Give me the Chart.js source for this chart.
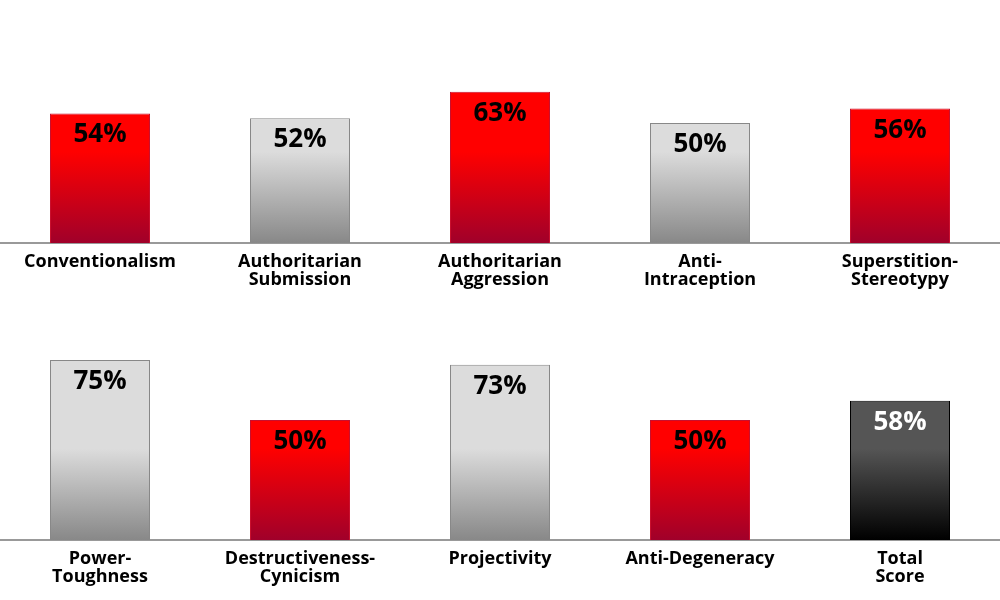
<!DOCTYPE html>
<html>
<head>
<meta charset="utf-8">
<script src="https://cdn.jsdelivr.net/npm/chart.js@4/dist/chart.umd.min.js"></script>
<style>
  body { margin: 0; background: #fff; }
  .row { width: 1000px; height: 300px; }
</style>
</head>
<body>
<div class="row"><canvas id="topChart" width="1000" height="300"></canvas></div>
<div class="row"><canvas id="bottomChart" width="1000" height="300"></canvas></div>
<script>
const topLabels = [
    'Conventionalism',
    ['Authoritarian', 'Submission'],
    ['Authoritarian', 'Aggression'],
    ['Anti-', 'Intraception'],
    ['Superstition-', 'Stereotypy']
];
const topValues = [54, 52, 63, 50, 56];

const bottomLabels = [
    ['Power-', 'Toughness'],
    ['Destructiveness-', 'Cynicism'],
    'Projectivity',
    'Anti-Degeneracy',
    ['Total', 'Score']
];
const bottomValues = [75, 50, 73, 50, 58];

// which palette each bar uses
const topKinds = ['red', 'gray', 'red', 'gray', 'red'];
const bottomKinds = ['gray', 'red', 'gray', 'red', 'dark'];

const palette = {
    red:  { top: '#ff0000', bottom: '#a0002a', border: '#c8102e', text: '#000' },
    gray: { top: '#dcdcdc', bottom: '#888888', border: '#888888', text: '#000' },
    dark: { top: '#555555', bottom: '#000000', border: '#000000', text: '#fff' }
};

function gradientFor(context, kind) {
    const p = palette[kind];
    const area = context.chart.chartArea;
    if (!area) return p.top;
    const g = context.chart.ctx.createLinearGradient(0, area.top, 0, area.bottom);
    g.addColorStop(0, p.top);
    g.addColorStop(0.62, p.top);
    g.addColorStop(1, p.bottom);
    return g;
}

const valueLabels = {
    id: 'valueLabels',
    afterDatasetsDraw(chart, args, opts) {
        const ctx = chart.ctx;
        const meta = chart.getDatasetMeta(0);
        ctx.save();
        ctx.font = 'bold 26px "Open Sans"';
        ctx.textAlign = 'center';
        ctx.textBaseline = 'alphabetic';
        meta.data.forEach((bar, i) => {
            ctx.fillStyle = palette[opts.kinds[i]].text;
            ctx.fillText(chart.data.datasets[0].data[i] + '%', bar.x, bar.y + 29);
        });
        ctx.restore();
    }
};

function makeChart(id, labels, values, kinds, padTop, axisHeight) {
    return new Chart(document.getElementById(id), {
        type: 'bar',
        data: {
            labels: labels,
            datasets: [{
                data: values,
                backgroundColor: ctx => gradientFor(ctx, kinds[ctx.dataIndex]),
                borderColor: kinds.map(k => palette[k].border),
                borderWidth: 1,
                categoryPercentage: 1,
                barPercentage: 0.5
            }]
        },
        options: {
            responsive: false,
            animation: false,
            layout: { padding: { top: padTop, left: 0, right: 0, bottom: 0 } },
            plugins: {
                legend: { display: false },
                tooltip: { enabled: false },
                valueLabels: { kinds: kinds }
            },
            scales: {
                y: { display: false, min: 0, max: 100 },
                x: {
                    grid: { display: false },
                    border: { display: true, color: '#999999', width: 2 },
                    ticks: {
                        color: '#000',
                        padding: 2,
                        maxRotation: 0,
                        autoSkip: false,
                        font: { family: '"Open Sans"', size: 18, weight: 'bold', lineHeight: 1.0 }
                    },
                    afterFit: s => { s.height = axisHeight; }
                }
            }
        },
        plugins: [valueLabels]
    });
}

makeChart('topChart', topLabels, topValues, topKinds, 3, 57);
makeChart('bottomChart', bottomLabels, bottomValues, bottomKinds, 0, 60);
</script>
</body>
</html>
